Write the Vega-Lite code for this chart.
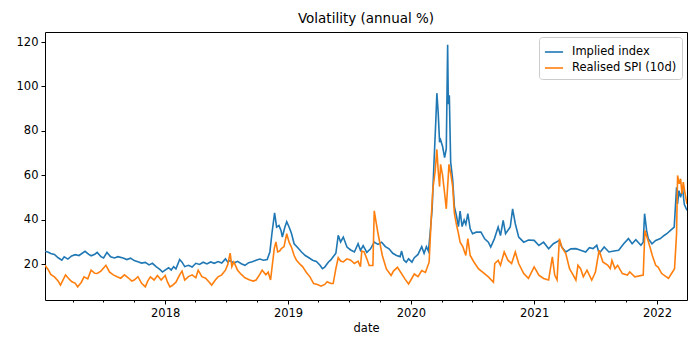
{
  "$schema": "https://vega.github.io/schema/vega-lite/v6.json",
  "width": 642,
  "height": 268,
  "autosize": "none",
  "padding": {"left": 45, "top": 32, "right": 13, "bottom": 50},
  "background": "white",
  "config": {
    "font": "DejaVu Sans",
    "view": {"stroke": "black", "strokeWidth": 1},
    "axis": {"labelFont": "DejaVu Sans", "titleFont": "DejaVu Sans", "labelColor": "black", "titleColor": "black", "tickColor": "black", "domain": false, "grid": false, "labelFontSize": 11.5, "titleFontSize": 11.5, "titleFontWeight": "normal"}
  },
  "title": {"text": "Volatility (annual %)", "fontSize": 13.5, "fontWeight": "normal", "font": "DejaVu Sans", "anchor": "middle", "offset": 7, "color": "black"},
  "datasets": {
    "implied": [
      {"d": "2017-01-09", "v": 25.9}, {"d": "2017-01-19", "v": 25.5}, {"d": "2017-01-26", "v": 24.9}, {"d": "2017-02-06", "v": 24.5}, {"d": "2017-02-17", "v": 23.0}, {"d": "2017-02-28", "v": 21.9}, {"d": "2017-03-07", "v": 23.4}, {"d": "2017-03-18", "v": 22.4}, {"d": "2017-03-29", "v": 23.8}, {"d": "2017-04-09", "v": 24.4}, {"d": "2017-04-20", "v": 24.0}, {"d": "2017-05-08", "v": 25.9}, {"d": "2017-05-19", "v": 24.5}, {"d": "2017-05-26", "v": 23.9}, {"d": "2017-06-06", "v": 24.6}, {"d": "2017-06-13", "v": 25.4}, {"d": "2017-06-24", "v": 23.5}, {"d": "2017-07-02", "v": 22.9}, {"d": "2017-07-12", "v": 25.4}, {"d": "2017-07-23", "v": 23.4}, {"d": "2017-08-03", "v": 22.9}, {"d": "2017-08-14", "v": 23.5}, {"d": "2017-08-29", "v": 22.9}, {"d": "2017-09-09", "v": 22.2}, {"d": "2017-09-20", "v": 22.8}, {"d": "2017-10-01", "v": 21.7}, {"d": "2017-10-12", "v": 21.2}, {"d": "2017-10-23", "v": 20.6}, {"d": "2017-11-03", "v": 20.9}, {"d": "2017-11-14", "v": 19.8}, {"d": "2017-11-24", "v": 20.5}, {"d": "2017-12-05", "v": 19.0}, {"d": "2017-12-16", "v": 17.8}, {"d": "2017-12-24", "v": 16.6},
      {"d": "2018-01-04", "v": 17.8}, {"d": "2018-01-11", "v": 18.5}, {"d": "2018-01-19", "v": 17.5}, {"d": "2018-01-26", "v": 19.0}, {"d": "2018-02-02", "v": 18.0}, {"d": "2018-02-13", "v": 22.2}, {"d": "2018-02-20", "v": 21.0}, {"d": "2018-02-28", "v": 19.0}, {"d": "2018-03-11", "v": 19.6}, {"d": "2018-03-22", "v": 18.8}, {"d": "2018-04-02", "v": 20.5}, {"d": "2018-04-13", "v": 20.0}, {"d": "2018-04-24", "v": 21.0}, {"d": "2018-05-05", "v": 20.2}, {"d": "2018-05-16", "v": 21.1}, {"d": "2018-05-27", "v": 20.5}, {"d": "2018-06-07", "v": 21.3}, {"d": "2018-06-18", "v": 20.6}, {"d": "2018-06-29", "v": 22.5}, {"d": "2018-07-06", "v": 21.0}, {"d": "2018-07-13", "v": 21.8}, {"d": "2018-07-24", "v": 20.6}, {"d": "2018-08-04", "v": 21.4}, {"d": "2018-08-15", "v": 20.3}, {"d": "2018-08-26", "v": 19.6}, {"d": "2018-09-06", "v": 20.8}, {"d": "2018-09-17", "v": 21.2}, {"d": "2018-09-28", "v": 21.9}, {"d": "2018-10-09", "v": 22.4}, {"d": "2018-10-20", "v": 21.9}, {"d": "2018-10-31", "v": 22.2}, {"d": "2018-11-08", "v": 25.6}, {"d": "2018-11-14", "v": 33.8}, {"d": "2018-11-22", "v": 43.2}, {"d": "2018-11-28", "v": 36.8}, {"d": "2018-12-05", "v": 37.5}, {"d": "2018-12-11", "v": 35.3}, {"d": "2018-12-15", "v": 32.3}, {"d": "2018-12-22", "v": 36.5}, {"d": "2018-12-28", "v": 39.2},
      {"d": "2019-01-04", "v": 36.8}, {"d": "2019-01-11", "v": 34.0}, {"d": "2019-01-19", "v": 29.3}, {"d": "2019-01-30", "v": 27.5}, {"d": "2019-02-10", "v": 25.6}, {"d": "2019-02-21", "v": 24.0}, {"d": "2019-03-04", "v": 23.0}, {"d": "2019-03-15", "v": 21.9}, {"d": "2019-03-26", "v": 21.3}, {"d": "2019-04-06", "v": 19.6}, {"d": "2019-04-13", "v": 18.1}, {"d": "2019-04-20", "v": 18.8}, {"d": "2019-05-01", "v": 21.1}, {"d": "2019-05-08", "v": 22.0}, {"d": "2019-05-15", "v": 23.4}, {"d": "2019-05-23", "v": 25.0}, {"d": "2019-05-30", "v": 33.1}, {"d": "2019-06-06", "v": 30.1}, {"d": "2019-06-14", "v": 32.3}, {"d": "2019-06-25", "v": 27.8}, {"d": "2019-07-06", "v": 26.5}, {"d": "2019-07-17", "v": 25.6}, {"d": "2019-07-28", "v": 29.3}, {"d": "2019-08-04", "v": 26.3}, {"d": "2019-08-12", "v": 28.4}, {"d": "2019-08-23", "v": 25.4}, {"d": "2019-09-03", "v": 27.0}, {"d": "2019-09-14", "v": 30.0}, {"d": "2019-09-25", "v": 29.0}, {"d": "2019-10-06", "v": 30.0}, {"d": "2019-10-17", "v": 28.0}, {"d": "2019-10-28", "v": 27.0}, {"d": "2019-11-08", "v": 25.0}, {"d": "2019-11-19", "v": 24.0}, {"d": "2019-11-30", "v": 23.5}, {"d": "2019-12-04", "v": 26.0}, {"d": "2019-12-11", "v": 22.0}, {"d": "2019-12-18", "v": 21.0}, {"d": "2019-12-25", "v": 22.5},
      {"d": "2020-01-04", "v": 21.0}, {"d": "2020-01-11", "v": 23.0}, {"d": "2020-01-22", "v": 24.5}, {"d": "2020-02-02", "v": 28.0}, {"d": "2020-02-09", "v": 25.0}, {"d": "2020-02-16", "v": 28.0}, {"d": "2020-02-22", "v": 26.0}, {"d": "2020-02-27", "v": 34.0}, {"d": "2020-03-04", "v": 45.0}, {"d": "2020-03-09", "v": 64.0}, {"d": "2020-03-15", "v": 85.0}, {"d": "2020-03-18", "v": 97.0}, {"d": "2020-03-22", "v": 88.0}, {"d": "2020-03-26", "v": 75.0}, {"d": "2020-03-29", "v": 76.0}, {"d": "2020-04-04", "v": 73.0}, {"d": "2020-04-10", "v": 68.0}, {"d": "2020-04-15", "v": 72.0}, {"d": "2020-04-19", "v": 118.8}, {"d": "2020-04-21", "v": 92.0}, {"d": "2020-04-24", "v": 96.0}, {"d": "2020-04-28", "v": 66.0}, {"d": "2020-05-04", "v": 58.0}, {"d": "2020-05-09", "v": 46.0}, {"d": "2020-05-15", "v": 42.0}, {"d": "2020-05-21", "v": 37.0}, {"d": "2020-05-26", "v": 44.0}, {"d": "2020-06-01", "v": 37.0}, {"d": "2020-06-07", "v": 40.0}, {"d": "2020-06-12", "v": 38.0}, {"d": "2020-06-18", "v": 42.8}, {"d": "2020-06-25", "v": 36.0}, {"d": "2020-07-02", "v": 33.8}, {"d": "2020-07-13", "v": 34.5}, {"d": "2020-07-27", "v": 34.5}, {"d": "2020-08-07", "v": 31.5}, {"d": "2020-08-18", "v": 30.0}, {"d": "2020-08-25", "v": 27.8}, {"d": "2020-09-05", "v": 31.6}, {"d": "2020-09-16", "v": 36.8}, {"d": "2020-09-23", "v": 33.0}, {"d": "2020-10-01", "v": 39.8}, {"d": "2020-10-08", "v": 33.8}, {"d": "2020-10-22", "v": 36.8}, {"d": "2020-10-29", "v": 45.0}, {"d": "2020-11-06", "v": 38.3}, {"d": "2020-11-16", "v": 32.3}, {"d": "2020-12-01", "v": 30.0}, {"d": "2020-12-15", "v": 31.0},
      {"d": "2021-01-01", "v": 30.8}, {"d": "2021-01-15", "v": 28.5}, {"d": "2021-01-29", "v": 30.0}, {"d": "2021-02-13", "v": 27.0}, {"d": "2021-02-27", "v": 29.3}, {"d": "2021-03-17", "v": 30.8}, {"d": "2021-03-24", "v": 27.8}, {"d": "2021-04-05", "v": 25.6}, {"d": "2021-04-20", "v": 27.0}, {"d": "2021-05-05", "v": 27.1}, {"d": "2021-05-19", "v": 26.4}, {"d": "2021-06-03", "v": 25.6}, {"d": "2021-06-14", "v": 27.5}, {"d": "2021-06-25", "v": 27.1}, {"d": "2021-07-06", "v": 28.6}, {"d": "2021-07-13", "v": 24.9}, {"d": "2021-07-28", "v": 27.8}, {"d": "2021-08-11", "v": 25.6}, {"d": "2021-08-26", "v": 26.0}, {"d": "2021-09-09", "v": 26.4}, {"d": "2021-09-24", "v": 29.3}, {"d": "2021-10-08", "v": 31.6}, {"d": "2021-10-19", "v": 29.3}, {"d": "2021-10-30", "v": 31.1}, {"d": "2021-11-14", "v": 28.6}, {"d": "2021-11-21", "v": 30.0}, {"d": "2021-11-25", "v": 42.8}, {"d": "2021-12-01", "v": 35.3}, {"d": "2021-12-06", "v": 31.6}, {"d": "2021-12-17", "v": 29.3}, {"d": "2021-12-28", "v": 30.8},
      {"d": "2022-01-11", "v": 31.6}, {"d": "2022-01-22", "v": 33.0}, {"d": "2022-01-30", "v": 33.8}, {"d": "2022-02-10", "v": 35.3}, {"d": "2022-02-21", "v": 36.8}, {"d": "2022-02-28", "v": 54.7}, {"d": "2022-03-03", "v": 47.2}, {"d": "2022-03-07", "v": 53.2}, {"d": "2022-03-12", "v": 50.2}, {"d": "2022-03-18", "v": 54.0}, {"d": "2022-03-23", "v": 47.0}, {"d": "2022-03-31", "v": 44.3}
    ],
    "realised": [
      {"d": "2017-01-09", "v": 19.6}, {"d": "2017-01-19", "v": 17.5}, {"d": "2017-01-26", "v": 15.5}, {"d": "2017-02-06", "v": 14.4}, {"d": "2017-02-17", "v": 12.5}, {"d": "2017-02-24", "v": 10.7}, {"d": "2017-03-11", "v": 15.3}, {"d": "2017-03-18", "v": 14.0}, {"d": "2017-03-29", "v": 12.3}, {"d": "2017-04-09", "v": 11.5}, {"d": "2017-04-16", "v": 9.9}, {"d": "2017-04-27", "v": 12.0}, {"d": "2017-05-05", "v": 14.4}, {"d": "2017-05-16", "v": 13.5}, {"d": "2017-05-26", "v": 17.4}, {"d": "2017-06-06", "v": 16.0}, {"d": "2017-06-13", "v": 15.9}, {"d": "2017-06-24", "v": 17.0}, {"d": "2017-07-09", "v": 19.6}, {"d": "2017-07-20", "v": 16.5}, {"d": "2017-07-31", "v": 15.3}, {"d": "2017-08-11", "v": 14.5}, {"d": "2017-08-22", "v": 13.8}, {"d": "2017-09-02", "v": 15.3}, {"d": "2017-09-13", "v": 14.0}, {"d": "2017-09-24", "v": 12.5}, {"d": "2017-10-01", "v": 13.0}, {"d": "2017-10-12", "v": 14.5}, {"d": "2017-10-23", "v": 11.5}, {"d": "2017-11-03", "v": 9.9}, {"d": "2017-11-10", "v": 12.5}, {"d": "2017-11-18", "v": 14.4}, {"d": "2017-11-29", "v": 13.0}, {"d": "2017-12-09", "v": 15.0}, {"d": "2017-12-20", "v": 13.0},
      {"d": "2018-01-01", "v": 15.0}, {"d": "2018-01-08", "v": 12.0}, {"d": "2018-01-15", "v": 9.9}, {"d": "2018-01-22", "v": 10.5}, {"d": "2018-02-02", "v": 12.0}, {"d": "2018-02-13", "v": 15.3}, {"d": "2018-02-20", "v": 17.0}, {"d": "2018-02-28", "v": 13.0}, {"d": "2018-03-11", "v": 14.5}, {"d": "2018-03-22", "v": 15.3}, {"d": "2018-04-02", "v": 14.0}, {"d": "2018-04-09", "v": 17.4}, {"d": "2018-04-20", "v": 14.5}, {"d": "2018-05-01", "v": 13.8}, {"d": "2018-05-12", "v": 12.0}, {"d": "2018-05-19", "v": 10.7}, {"d": "2018-05-30", "v": 13.0}, {"d": "2018-06-07", "v": 14.4}, {"d": "2018-06-18", "v": 15.3}, {"d": "2018-06-29", "v": 17.4}, {"d": "2018-07-06", "v": 20.0}, {"d": "2018-07-13", "v": 25.1}, {"d": "2018-07-18", "v": 19.0}, {"d": "2018-07-24", "v": 21.1}, {"d": "2018-08-04", "v": 17.4}, {"d": "2018-08-15", "v": 15.5}, {"d": "2018-08-26", "v": 14.0}, {"d": "2018-09-09", "v": 13.0}, {"d": "2018-09-20", "v": 12.5}, {"d": "2018-09-28", "v": 13.0}, {"d": "2018-10-09", "v": 15.5}, {"d": "2018-10-16", "v": 17.4}, {"d": "2018-10-27", "v": 15.3}, {"d": "2018-11-03", "v": 16.5}, {"d": "2018-11-10", "v": 13.0}, {"d": "2018-11-21", "v": 27.1}, {"d": "2018-11-26", "v": 30.1}, {"d": "2018-12-01", "v": 25.6}, {"d": "2018-12-07", "v": 26.0}, {"d": "2018-12-12", "v": 27.1}, {"d": "2018-12-20", "v": 28.0}, {"d": "2018-12-28", "v": 33.8},
      {"d": "2019-01-04", "v": 30.0}, {"d": "2019-01-11", "v": 27.8}, {"d": "2019-01-19", "v": 24.0}, {"d": "2019-01-26", "v": 21.9}, {"d": "2019-02-06", "v": 20.0}, {"d": "2019-02-13", "v": 19.0}, {"d": "2019-02-24", "v": 16.5}, {"d": "2019-03-07", "v": 14.4}, {"d": "2019-03-18", "v": 11.4}, {"d": "2019-03-29", "v": 11.0}, {"d": "2019-04-09", "v": 10.2}, {"d": "2019-04-20", "v": 11.0}, {"d": "2019-04-27", "v": 12.2}, {"d": "2019-05-08", "v": 11.4}, {"d": "2019-05-15", "v": 11.4}, {"d": "2019-05-23", "v": 18.1}, {"d": "2019-05-30", "v": 23.0}, {"d": "2019-06-06", "v": 21.5}, {"d": "2019-06-14", "v": 21.1}, {"d": "2019-06-25", "v": 22.5}, {"d": "2019-07-06", "v": 21.9}, {"d": "2019-07-17", "v": 20.4}, {"d": "2019-07-28", "v": 21.5}, {"d": "2019-08-04", "v": 19.0}, {"d": "2019-08-08", "v": 26.0}, {"d": "2019-08-15", "v": 25.6}, {"d": "2019-08-23", "v": 22.5}, {"d": "2019-08-30", "v": 19.5}, {"d": "2019-09-10", "v": 19.5}, {"d": "2019-09-14", "v": 44.1}, {"d": "2019-09-25", "v": 34.0}, {"d": "2019-10-08", "v": 24.0}, {"d": "2019-10-20", "v": 18.0}, {"d": "2019-11-03", "v": 15.0}, {"d": "2019-11-10", "v": 17.0}, {"d": "2019-11-22", "v": 18.7}, {"d": "2019-12-14", "v": 13.5}, {"d": "2019-12-25", "v": 11.2},
      {"d": "2020-01-11", "v": 15.7}, {"d": "2020-01-22", "v": 14.5}, {"d": "2020-02-02", "v": 17.2}, {"d": "2020-02-13", "v": 16.4}, {"d": "2020-02-24", "v": 21.0}, {"d": "2020-03-01", "v": 40.0}, {"d": "2020-03-06", "v": 53.8}, {"d": "2020-03-13", "v": 62.0}, {"d": "2020-03-18", "v": 71.7}, {"d": "2020-03-22", "v": 62.0}, {"d": "2020-03-26", "v": 55.0}, {"d": "2020-03-29", "v": 65.0}, {"d": "2020-04-04", "v": 60.0}, {"d": "2020-04-10", "v": 52.0}, {"d": "2020-04-15", "v": 45.0}, {"d": "2020-04-19", "v": 55.0}, {"d": "2020-04-23", "v": 65.0}, {"d": "2020-04-28", "v": 61.0}, {"d": "2020-05-04", "v": 55.0}, {"d": "2020-05-09", "v": 43.0}, {"d": "2020-05-15", "v": 38.0}, {"d": "2020-05-21", "v": 34.0}, {"d": "2020-05-26", "v": 30.0}, {"d": "2020-06-03", "v": 28.0}, {"d": "2020-06-12", "v": 24.0}, {"d": "2020-06-18", "v": 31.6}, {"d": "2020-06-25", "v": 24.0}, {"d": "2020-07-06", "v": 21.1}, {"d": "2020-07-20", "v": 18.0}, {"d": "2020-07-31", "v": 16.6}, {"d": "2020-08-18", "v": 14.4}, {"d": "2020-09-02", "v": 12.0}, {"d": "2020-09-06", "v": 20.4}, {"d": "2020-09-16", "v": 21.8}, {"d": "2020-09-23", "v": 19.6}, {"d": "2020-10-04", "v": 25.6}, {"d": "2020-10-15", "v": 21.9}, {"d": "2020-10-26", "v": 20.4}, {"d": "2020-11-06", "v": 25.6}, {"d": "2020-11-16", "v": 20.4}, {"d": "2020-12-01", "v": 15.9}, {"d": "2020-12-15", "v": 13.7},
      {"d": "2021-01-01", "v": 18.9}, {"d": "2021-01-15", "v": 15.2}, {"d": "2021-01-29", "v": 13.7}, {"d": "2021-02-13", "v": 13.0}, {"d": "2021-02-24", "v": 23.4}, {"d": "2021-03-03", "v": 15.2}, {"d": "2021-03-10", "v": 13.0}, {"d": "2021-03-17", "v": 31.6}, {"d": "2021-03-24", "v": 27.8}, {"d": "2021-04-05", "v": 24.9}, {"d": "2021-04-16", "v": 18.1}, {"d": "2021-04-27", "v": 15.2}, {"d": "2021-05-05", "v": 12.9}, {"d": "2021-05-11", "v": 19.6}, {"d": "2021-05-19", "v": 18.1}, {"d": "2021-05-27", "v": 14.4}, {"d": "2021-06-07", "v": 17.4}, {"d": "2021-06-21", "v": 12.9}, {"d": "2021-07-02", "v": 16.6}, {"d": "2021-07-13", "v": 26.4}, {"d": "2021-07-24", "v": 21.1}, {"d": "2021-08-08", "v": 19.6}, {"d": "2021-08-15", "v": 18.1}, {"d": "2021-08-20", "v": 21.8}, {"d": "2021-08-29", "v": 18.1}, {"d": "2021-09-06", "v": 19.6}, {"d": "2021-09-20", "v": 15.9}, {"d": "2021-10-05", "v": 15.2}, {"d": "2021-10-12", "v": 16.6}, {"d": "2021-10-27", "v": 14.4}, {"d": "2021-11-21", "v": 15.2}, {"d": "2021-11-26", "v": 35.3}, {"d": "2021-12-02", "v": 32.3}, {"d": "2021-12-11", "v": 27.8}, {"d": "2021-12-18", "v": 24.0}, {"d": "2021-12-28", "v": 19.6},
      {"d": "2022-01-04", "v": 18.8}, {"d": "2022-01-15", "v": 15.9}, {"d": "2022-02-04", "v": 13.7}, {"d": "2022-02-13", "v": 15.9}, {"d": "2022-02-22", "v": 18.1}, {"d": "2022-02-28", "v": 33.8}, {"d": "2022-03-03", "v": 60.0}, {"d": "2022-03-08", "v": 56.2}, {"d": "2022-03-12", "v": 58.5}, {"d": "2022-03-16", "v": 51.7}, {"d": "2022-03-20", "v": 57.0}, {"d": "2022-03-25", "v": 52.0}, {"d": "2022-03-31", "v": 47.2}
    ]
  },
  "encoding": {
    "y": {"field": "v", "type": "quantitative", "scale": {"domain": [4, 124.5], "nice": false, "zero": false}, "axis": {"title": null, "values": [20, 40, 60, 80, 100, 120], "tickSize": 4, "labelPadding": 3}}
  },
  "layer": [
    {
      "data": {"name": "implied"},
      "mark": {"type": "line", "strokeWidth": 1.6, "clip": true},
      "encoding": {
        "x": {"field": "d", "type": "temporal", "scale": {"type": "utc", "domain": [{"year": 2017, "month": 1, "date": 9, "utc": true}, {"year": 2022, "month": 3, "date": 31, "utc": true}]}, "axis": {"orient": "bottom", "title": "date", "values": [{"year": 2018, "month": 1, "date": 1, "utc": true}, {"year": 2019, "month": 1, "date": 1, "utc": true}, {"year": 2020, "month": 1, "date": 1, "utc": true}, {"year": 2021, "month": 1, "date": 1, "utc": true}, {"year": 2022, "month": 1, "date": 1, "utc": true}], "format": "%Y", "formatType": "utc", "tickSize": 4, "labelPadding": 3, "titlePadding": 4}},
        "color": {"datum": "Implied index", "type": "nominal", "scale": {"domain": ["Implied index", "Realised SPI (10d)"], "range": ["#1f77b4", "#ff7f0e"]}, "legend": {"title": null, "orient": "top-right", "offset": 5, "padding": 5, "strokeColor": "#cccccc", "fillColor": "white", "cornerRadius": 3, "labelFontSize": 11.5, "labelFont": "DejaVu Sans", "labelColor": "black", "symbolType": "stroke", "symbolSize": 330, "symbolStrokeWidth": 1.6, "rowPadding": 0, "labelOffset": 8}}
      }
    },
    {
      "data": {"name": "realised"},
      "mark": {"type": "line", "strokeWidth": 1.6, "clip": true},
      "encoding": {
        "x": {"field": "d", "type": "temporal", "axis": {"orient": "bottom", "title": null, "labels": false, "tickSize": 2, "values": [{"year": 2017, "month": 4, "date": 1, "utc": true}, {"year": 2017, "month": 7, "date": 1, "utc": true}, {"year": 2017, "month": 10, "date": 1, "utc": true}, {"year": 2018, "month": 4, "date": 1, "utc": true}, {"year": 2018, "month": 7, "date": 1, "utc": true}, {"year": 2018, "month": 10, "date": 1, "utc": true}, {"year": 2019, "month": 4, "date": 1, "utc": true}, {"year": 2019, "month": 7, "date": 1, "utc": true}, {"year": 2019, "month": 10, "date": 1, "utc": true}, {"year": 2020, "month": 4, "date": 1, "utc": true}, {"year": 2020, "month": 7, "date": 1, "utc": true}, {"year": 2020, "month": 10, "date": 1, "utc": true}, {"year": 2021, "month": 4, "date": 1, "utc": true}, {"year": 2021, "month": 7, "date": 1, "utc": true}, {"year": 2021, "month": 10, "date": 1, "utc": true}]}},
        "color": {"datum": "Realised SPI (10d)", "type": "nominal"}
      }
    }
  ],
  "resolve": {"axis": {"x": "independent"}}
}
